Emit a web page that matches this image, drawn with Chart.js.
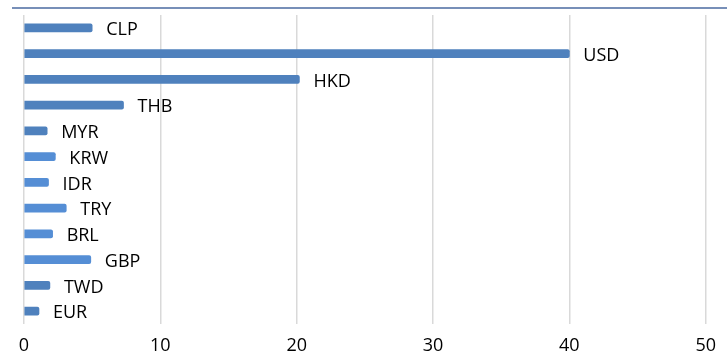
<!DOCTYPE html>
<html>
<head>
<meta charset="utf-8">
<script src="https://cdn.jsdelivr.net/npm/chart.js@4"></script>
<style>
    html, body { margin: 0; padding: 0; background: #fff; }
    #wrap { width: 727px; height: 358px; position: relative; }
</style>
</head>
<body>
<div id="wrap"><canvas id="fxChart"></canvas></div>
<script>
const currencies = ['CLP', 'USD', 'HKD', 'THB', 'MYR', 'KRW', 'IDR', 'TRY', 'BRL', 'GBP', 'TWD', 'EUR']
const shares = [5.0, 40.0, 20.2, 7.3, 1.7, 2.3, 1.8, 3.1, 2.1, 4.9, 1.9, 1.1]
const barColors = ['#4f81bd', '#4f81bd', '#4f81bd', '#4f81bd', '#4f81bd', '#558ed5',
    '#558ed5', '#558ed5', '#558ed5', '#558ed5', '#4f81bd', '#4f81bd']
const xTicks = [0, 10, 20, 30, 40, 50]

const fontFamily = '"Open Sans", "Liberation Sans", sans-serif'

// category name drawn just past the end of each bar
const barLabels = {
    id: 'barLabels',
    afterDatasetsDraw(chart) {
        const ctx = chart.ctx
        const meta = chart.getDatasetMeta(0)
        ctx.save()
        ctx.font = `18px ${fontFamily}`
        ctx.fillStyle = '#000'
        ctx.textBaseline = 'middle'
        ctx.textAlign = 'left'
        meta.data.forEach((bar, i) => {
            ctx.fillText(currencies[i], bar.x + 14, bar.y + 2)
        })
        ctx.restore()
    },
}

// thin rule across the top of the figure
const topRule = {
    id: 'topRule',
    beforeDraw(chart) {
        const ctx = chart.ctx
        ctx.save()
        ctx.strokeStyle = '#4a6aa0'
        ctx.lineWidth = 1.5
        ctx.beginPath()
        ctx.moveTo(12, 8)
        ctx.lineTo(chart.width, 8)
        ctx.stroke()
        ctx.restore()
    },
}

new Chart(document.getElementById('fxChart'), {
    type: 'bar',
    data: {
        labels: currencies,
        datasets: [{
            data: shares,
            backgroundColor: barColors,
            borderWidth: 0,
            borderRadius: 2,
            borderSkipped: 'start',
            barThickness: 8,
        }],
    },
    options: {
        indexAxis: 'y',
        responsive: true,
        maintainAspectRatio: false,
        animation: false,
        layout: { padding: { left: 24, right: 19, top: 15, bottom: 0 } },
        plugins: {
            legend: { display: false },
            tooltip: { enabled: false },
        },
        scales: {
            x: {
                min: 0,
                max: 50,
                afterBuildTicks: axis => { axis.ticks = xTicks.map(v => ({ value: v })) },
                afterFit: axis => { axis.height = 34 },
                border: { display: false },
                grid: { color: '#d9d9d9', lineWidth: 1.5, drawTicks: false },
                ticks: { color: '#000', padding: 11, font: { family: fontFamily, size: 18 } },
            },
            y: {
                display: false,
            },
        },
    },
    plugins: [barLabels, topRule],
})
</script>
</body>
</html>
